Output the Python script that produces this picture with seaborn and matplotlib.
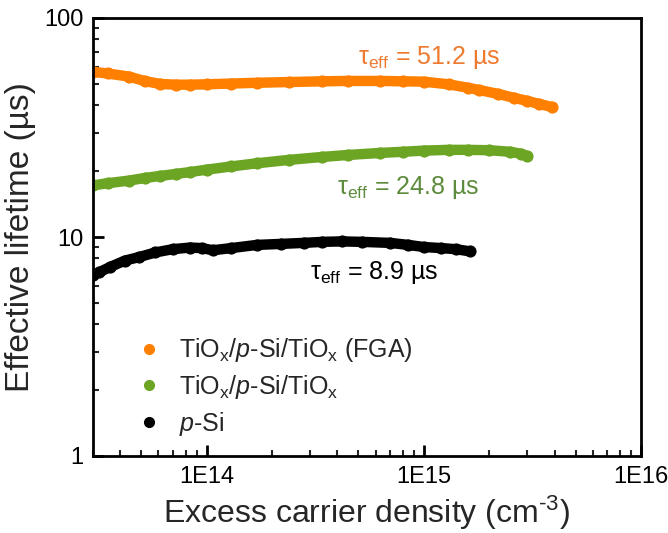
import pandas as pd
import seaborn as sns
import matplotlib.pyplot as plt
from matplotlib.lines import Line2D
from matplotlib.ticker import LogLocator, NullFormatter, FixedLocator, FixedFormatter

# excess carrier density (cm^-3) and effective lifetime (us)
fga_x = [3.0e13, 3.5e13, 4.4e13, 5.2e13, 6.1e13, 7.2e13, 8.4e13, 1.0e14, 1.3e14, 1.7e14,
         2.4e14, 3.4e14, 4.5e14, 6.3e14, 8.0e14, 1.0e15, 1.3e15, 1.6e15, 1.8e15, 2.2e15,
         2.6e15, 3.0e15, 3.4e15, 3.9e15]
fga_y = [56.8, 55.8, 54.0, 51.5, 50.0, 49.6, 49.6, 49.8, 50.2, 50.6,
         51.0, 51.4, 51.6, 51.6, 51.4, 51.2, 49.8, 48.0, 46.9, 45.0,
         43.2, 41.8, 40.5, 39.2]

tio_x = [3.0e13, 3.5e13, 4.4e13, 5.2e13, 6.1e13, 7.2e13, 8.4e13, 1.0e14, 1.3e14, 1.7e14,
         2.4e14, 3.4e14, 4.5e14, 6.3e14, 8.0e14, 1.0e15, 1.3e15, 1.6e15, 2.0e15, 2.5e15,
         2.8e15, 3.0e15]
tio_y = [17.2, 17.6, 18.1, 18.6, 19.0, 19.4, 19.8, 20.3, 21.0, 21.7,
         22.5, 23.2, 23.7, 24.2, 24.5, 24.8, 25.0, 25.0, 24.9, 24.5,
         24.0, 23.4]

psi_x = [3.0e13, 3.2e13, 3.6e13, 4.2e13, 4.9e13, 5.8e13, 7.0e13, 8.4e13, 9.5e13, 1.07e14,
         1.3e14, 1.7e14, 2.2e14, 2.8e14, 3.4e14, 4.2e14, 5.2e14, 7.0e14, 8.5e14, 1.0e15,
         1.2e15, 1.4e15, 1.63e15]
psi_y = [6.7, 6.9, 7.3, 7.8, 8.1, 8.5, 8.8, 8.95, 8.9, 8.7,
         8.9, 9.2, 9.3, 9.4, 9.5, 9.55, 9.5, 9.4, 9.2, 9.0,
         8.9, 8.8, 8.6]

labels = [r"TiO$_\mathrm{x}$/$p$-Si/TiO$_\mathrm{x}$ (FGA)",
          r"TiO$_\mathrm{x}$/$p$-Si/TiO$_\mathrm{x}$",
          r"$p$-Si"]
colors = ["#FF8000", "#6BA523", "#000000"]
text_colors = ["#EE7A30", "#5E8C3E", "#000000"]
taus = ["τ$_\\mathrm{eff}$ = 51.2 µs", "τ$_\\mathrm{eff}$ = 24.8 µs", "τ$_\\mathrm{eff}$ = 8.9 µs"]

sns.set_style("white")
plt.rcParams["font.family"] = ["Liberation Sans", "DejaVu Sans"]
plt.rcParams["mathtext.fontset"] = "custom"
plt.rcParams["mathtext.rm"] = "Liberation Sans"
plt.rcParams["mathtext.it"] = "Liberation Sans:italic"
plt.rcParams["mathtext.sf"] = "Liberation Sans"

fig = plt.figure(figsize=(6.68, 5.33), dpi=100)
ax = fig.add_axes([93 / 668, 1 - 456 / 533, 548 / 668, 438 / 533])

series = [(fga_x, fga_y), (tio_x, tio_y), (psi_x, psi_y)]
for (xs, ys), c in zip(series, colors):
    df = pd.DataFrame({"n": xs, "tau": ys})
    sns.lineplot(data=df, x="n", y="tau", ax=ax, color=c, linewidth=7.5,
                 marker="o", markersize=8, markeredgecolor=c, sort=True,
                 solid_capstyle="round")

ax.set_xscale("log")
ax.set_yscale("log")
ax.set_xlim(3e13, 1e16)
ax.set_ylim(1, 100)

ax.xaxis.set_major_locator(FixedLocator([1e14, 1e15, 1e16]))
ax.xaxis.set_major_formatter(FixedFormatter(["1E14", "1E15", "1E16"]))
ax.xaxis.set_minor_locator(LogLocator(base=10, subs=range(2, 10)))
ax.xaxis.set_minor_formatter(NullFormatter())
ax.yaxis.set_major_locator(FixedLocator([1, 10, 100]))
ax.yaxis.set_major_formatter(FixedFormatter(["1", "10", "100"]))
ax.yaxis.set_minor_locator(LogLocator(base=10, subs=range(2, 10)))
ax.yaxis.set_minor_formatter(NullFormatter())

ax.tick_params(which="major", direction="in", length=8, width=2, labelsize=17,
               bottom=True, left=True, top=False, right=False, pad=7, colors="black")
ax.tick_params(which="minor", direction="in", length=4.5, width=1.5,
               bottom=True, left=True, top=False, right=False)
for s in ax.spines.values():
    s.set_linewidth(2)
    s.set_color("black")

ax.set_xlabel("Excess carrier density (cm$^{\\text{-3}}$)", fontsize=23, labelpad=4)
ax.set_ylabel("Effective lifetime (µs)", fontsize=24, labelpad=6)

ax.text(5.0e14, 57, taus[0], color=text_colors[0], fontsize=18, ha="left", va="bottom")
ax.text(4.0e14, 19.3, taus[1], color=text_colors[1], fontsize=18, ha="left", va="top")
ax.text(3.0e14, 7.95, taus[2], color=text_colors[2], fontsize=18, ha="left", va="top")

handles = [Line2D([], [], linestyle="none", marker="o", markersize=7,
                  markerfacecolor=c, markeredgecolor=c) for c in colors]
ax.legend(handles, labels, loc="lower left", bbox_to_anchor=(0.033, -0.01),
          frameon=False, fontsize=18, handletextpad=0.6, labelspacing=0.35,
          handlelength=1.2)

fig.savefig("out.png", dpi=100)
